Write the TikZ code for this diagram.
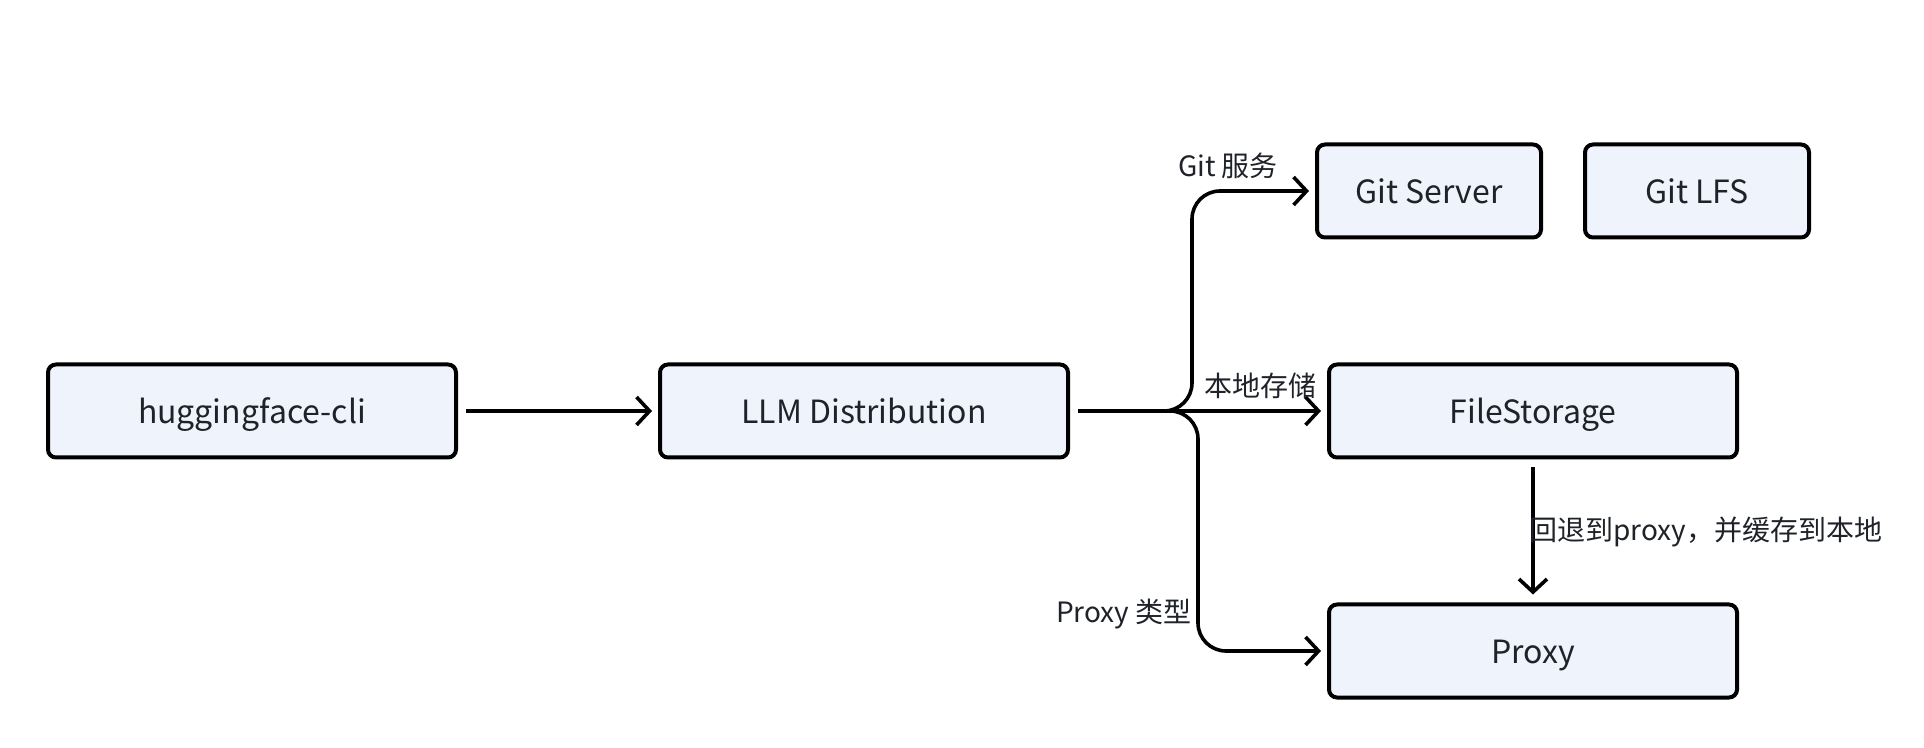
\documentclass[tikz,border=0pt]{standalone}
\usepackage{fontspec}
\setmainfont{Noto Sans CJK SC}
\usetikzlibrary{arrows.meta,positioning}
\definecolor{boxfill}{RGB}{239,243,252}
\definecolor{textgray}{RGB}{31,35,41}
\begin{document}
\begin{tikzpicture}[x=0.5pt,y=-0.5pt,
  box/.style={draw=black,line width=2pt,rounded corners=4pt,fill=boxfill,minimum width=204pt,minimum height=46.5pt,text height=15.5pt,text depth=3pt,font=\fontsize{16}{19}\selectfont,text=textgray},
  smallbox/.style={box,minimum width=112pt},
  conn/.style={line width=1.8pt,-{Straight Barb[length=6.5pt,width=14pt]},shorten <=4pt,shorten >=3pt},
  lbl/.style={font=\fontsize{14}{16}\selectfont,text=textgray,inner sep=0pt}]
\useasboundingbox (0,0) rectangle (1924,748);
% boxes
\node[box] (hf) at (252,411) {huggingface-cli};
\node[box] (llm) at (864,411) {LLM Distribution};
\node[smallbox] (gits) at (1429,191) {Git Server};
\node[smallbox] (lfs) at (1697,191) {Git LFS};
\node[box] (fs) at (1533,411) {FileStorage};
\node[box] (proxy) at (1533,651) {Proxy};
% branch points
\coordinate (upfork) at (1192,411);
\coordinate (downfork) at (1198,411);
% arrows
\draw[conn] (hf) -- (llm);
\draw[conn,rounded corners=14pt] (llm.east) -- (upfork) |- (gits.west);
\draw[conn] (llm.east) -- (fs.west);
\draw[conn,rounded corners=14pt] (llm.east) -- (downfork) |- (proxy.west);
\draw[conn,shorten >=4pt] (fs) -- (proxy);
% labels
\node[lbl,anchor=south] (lgit) at (1228,179) {Git 服务};
\node[lbl,anchor=south] (llocal) at (1260,399) {本地存储};
\node[lbl,anchor=east] (lproxy) at (1192,614) {Proxy 类型};
\node[lbl,anchor=west] (lfall) at (1529,532) {回退到proxy，并缓存到本地};
\end{tikzpicture}
\end{document}
